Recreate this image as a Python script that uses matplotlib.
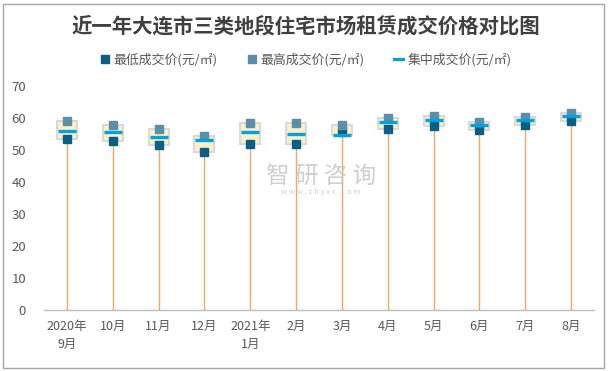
import matplotlib
matplotlib.use("Agg")
import matplotlib.pyplot as plt
from matplotlib.lines import Line2D
from matplotlib.patches import Rectangle
import numpy as np

plt.rcParams['font.family'] = ['Noto Sans CJK SC', 'DejaVu Sans']

categories = ['2020年\n9月', '10月', '11月', '12月', '2021年\n1月', '2月', '3月',
              '4月', '5月', '6月', '7月', '8月']
low = [53.3, 52.7, 51.5, 49.3, 51.8, 51.8, 55.6, 56.5, 57.4, 56.1, 57.7, 59.0]
high = [59.0, 57.7, 56.6, 54.3, 58.3, 58.3, 57.7, 59.9, 60.6, 58.8, 60.3, 61.7]
mid = [55.8, 55.5, 54.0, 53.0, 55.5, 54.9, 54.6, 58.6, 59.3, 57.7, 59.3, 60.5]
series_names = ['最低成交价(元/㎡)', '最高成交价(元/㎡)', '集中成交价(元/㎡)']
title = '近一年大连市三类地段住宅市场租赁成交价格对比图'
yticks = [0, 10, 20, 30, 40, 50, 60, 70]

C_LOW = '#0B5F86'
C_HIGH = '#5A8FA8'
C_MID = '#00A3E0'
C_BOX = '#FDEFC8'
C_BOXEDGE = '#D9D9D9'
C_LINE = '#F0A868'
C_TEXT = '#595959'

W, H = 609, 371
fig = plt.figure(figsize=(W / 100, H / 100), dpi=100)
ax = fig.add_axes([44 / W, 1 - 310 / H, 550 / W, 224 / H])

x = np.arange(len(categories))
lo = np.array(low); hi = np.array(high); md = np.array(mid)
bot = np.minimum(lo, md); top = np.maximum(hi, md)

ax.vlines(x, 0, hi, colors=C_LINE, linewidth=1.0, zorder=1)
ax.bar(x, top - bot, bottom=bot, width=0.44, color=C_BOX, edgecolor=C_BOXEDGE,
       linewidth=1.4, zorder=2)
ax.plot(x, lo, linestyle='none', marker='s', markersize=5.4, color=C_LOW, zorder=3)
ax.plot(x, hi, linestyle='none', marker='s', markersize=5.4, color=C_HIGH, zorder=3)
ax.plot(x, md, linestyle='none', marker='_', markersize=12.5, markeredgewidth=2.4,
        color=C_MID, zorder=4)

ax.set_xlim(-0.5, len(categories) - 0.5)
ax.set_ylim(0, 70)
ax.set_yticks(yticks)
ax.set_xticks(x)
ax.set_xticklabels(categories, fontsize=9, color=C_TEXT, linespacing=1.55, va='top')
ax.tick_params(axis='x', length=0, pad=7)
ax.tick_params(axis='y', length=0, pad=13, labelsize=9.5, labelcolor=C_TEXT)
for s in ['top', 'right', 'left']:
    ax.spines[s].set_visible(False)
ax.spines['bottom'].set_color('#BFBFBF')
ax.spines['bottom'].set_linewidth(1.0)

# watermark
fig.text(321 / W, 1 - 177 / H, '智 研 咨 询', fontsize=17, color='#C4C4C4', ha='center',
         va='center', alpha=0.8, zorder=0)
fig.text(321 / W, 1 - 192 / H, 'w w w . c h y x x . c o m', fontsize=5.5, color='#C4C4C4',
         ha='center', va='center', alpha=0.8)

fig.text(306 / W, 1 - 26 / H, title, fontsize=14.7, fontweight='bold', color='#404040',
         ha='center', va='center')

handles = [
    Line2D([], [], linestyle='none', marker='s', markersize=5.5, color=C_LOW),
    Line2D([], [], linestyle='none', marker='s', markersize=5.5, color=C_HIGH),
    Line2D([], [], color=C_MID, linewidth=2.2),
]
fig.legend(handles, series_names, loc='center', bbox_to_anchor=(306 / W, 1 - 60 / H),
           ncol=3, frameon=False, fontsize=9.3, handlelength=0.7, handletextpad=0.3,
           columnspacing=2.3, labelcolor=C_TEXT)

fig.add_artist(Rectangle((3 / W, 3 / H), 601 / W, 364 / H, transform=fig.transFigure,
                         fill=False, edgecolor='#A6A6A6', linewidth=1.0))

fig.savefig('out.png', dpi=100)
